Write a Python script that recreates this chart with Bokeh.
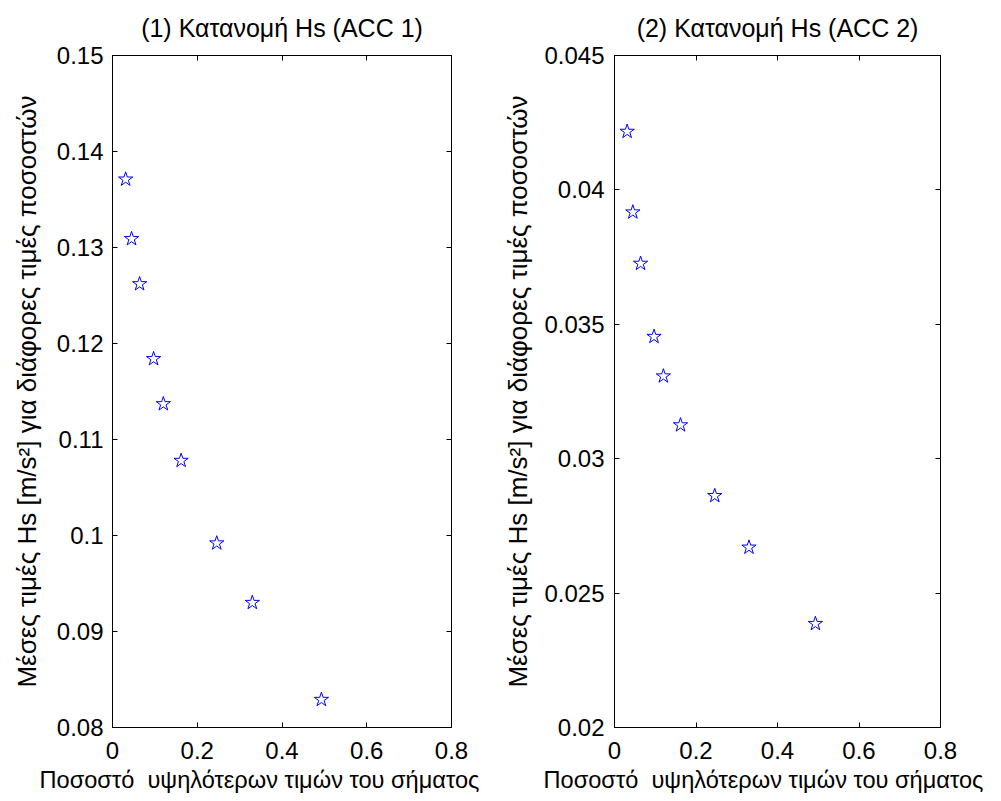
from bokeh.plotting import figure
from bokeh.layouts import row
from bokeh.models import FixedTicker, LinearAxis, CustomJSTickFormatter, Range1d, Title
from bokeh.embed import file_html
from bokeh.resources import INLINE

# ---- data ----
pct = [0.031, 0.045, 0.064, 0.097, 0.12, 0.162, 0.246, 0.33, 0.493]
hs_acc1 = [0.1371, 0.1309, 0.1262, 0.1184, 0.1137, 0.1078, 0.0992, 0.0930, 0.0829]
hs_acc2 = [0.04217, 0.03917, 0.03726, 0.03454, 0.03307, 0.03125, 0.02862, 0.02670, 0.02386]
x_ticks = [0, 0.2, 0.4, 0.6, 0.8]
y1_ticks = [0.08, 0.09, 0.1, 0.11, 0.12, 0.13, 0.14, 0.15]
y2_ticks = [0.02, 0.025, 0.03, 0.035, 0.04, 0.045]
titles = ["(1) Κατανομή Hs (ACC 1)", "(2) Κατανομή Hs (ACC 2)"]
x_label = "Ποσοστό\u00a0 υψηλότερων τιμών του σήματος"
y_label = "Μέσες τιμές Hs [m/s²] για διάφορες τιμές ποσοστών"

FONT = "Liberation Sans"
LFS = "25px"
XFS = "23.6px"
YFS = "26px"
TFS = "24px"
H = 795
fmt_code = "return String(tick);"


def style_axis(ax, ticks):
    ax.ticker = FixedTicker(ticks=ticks)
    ax.formatter = CustomJSTickFormatter(code=fmt_code)
    ax.major_tick_in = 5
    ax.major_tick_out = 0
    ax.minor_tick_line_color = None
    ax.axis_line_color = "black"
    ax.major_tick_line_color = "black"
    ax.major_label_text_font = FONT
    ax.major_label_text_color = "black"
    ax.major_label_text_font_size = TFS


def box_axis(ticks):
    # unlabeled axis: only inward tick marks (as minor ticks) on the box side
    ax = LinearAxis(ticker=FixedTicker(ticks=[], minor_ticks=ticks))
    ax.major_tick_line_color = None
    ax.minor_tick_in = 5
    ax.minor_tick_out = 0
    ax.minor_tick_line_color = "black"
    ax.axis_line_color = "black"
    ax.major_label_standoff = 6
    return ax


def panel(title, ys, yticks, ylo, yhi, width, bl, br, ystand, ylab_stand, xlab_off):
    p = figure(width=width, height=H, output_backend="svg", toolbar_location=None,
               x_range=Range1d(0, 0.8), y_range=Range1d(ylo, yhi),
               min_border_left=bl, min_border_right=br, min_border_top=52,
               min_border_bottom=H - 52 - 675)
    p.grid.visible = False
    p.outline_line_color = "black"
    p.outline_line_width = 1
    p.background_fill_color = "white"
    p.border_fill_color = "white"
    p.title.text = title
    p.title.align = "center"
    p.title.vertical_align = "middle"
    p.title.text_font = FONT
    p.title.text_font_size = LFS
    p.title.text_font_style = "normal"
    p.title.text_color = "black"
    p.title.standoff = 25

    style_axis(p.xaxis[0], x_ticks)
    style_axis(p.yaxis[0], yticks)
    p.xaxis[0].major_label_standoff = 14
    p.yaxis[0].major_label_standoff = ystand
    p.yaxis[0].axis_label = y_label
    p.yaxis[0].axis_label_text_font = FONT
    p.yaxis[0].axis_label_text_font_size = YFS
    p.yaxis[0].axis_label_text_font_style = "normal"
    p.yaxis[0].axis_label_text_color = "black"
    p.yaxis[0].axis_label_standoff = ylab_stand

    p.add_layout(box_axis(x_ticks), "above")
    p.add_layout(box_axis(yticks), "right")

    p.add_layout(Title(text=x_label, align="left", offset=xlab_off,
                       text_font=FONT, text_font_size=XFS,
                       text_font_style="normal", text_color="black",
                       standoff=6), "below")

    p.scatter(pct, ys, marker="star", size=15, line_color="blue",
              fill_color=None, line_width=1)
    return p


p1 = panel(titles[0], hs_acc1, y1_ticks, 0.08, 0.15, 500, 112, 49, 9, 12, -73)
p2 = panel(titles[1], hs_acc2, y2_ticks, 0.02, 0.045, 493, 101, 53, 10, 8, -71)
layout = row(p1, p2)

open("out.html", "w").write(file_html(layout, INLINE))
